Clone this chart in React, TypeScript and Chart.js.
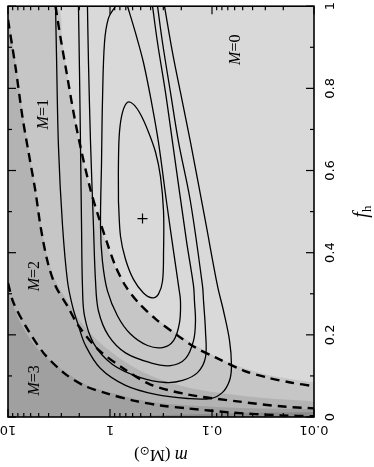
import React, { useEffect, useRef } from 'react';
import { Chart, registerables } from 'chart.js';

Chart.register(...registerables);

// ---- axis ticks ----
const M_TICKS = [10, 1, 0.1, 0.01];
const M_TICK_LABELS = ['10', '1', '0.1', '0.01'];
const M_MINOR = [9, 8, 7, 6, 5, 4, 3, 2, 0.9, 0.8, 0.7, 0.6, 0.5, 0.4, 0.3, 0.2, 0.09, 0.08, 0.07, 0.06, 0.05, 0.04, 0.03, 0.02];
const F_TICKS = [0, 0.2, 0.4, 0.6, 0.8, 1];
const F_TICK_LABELS = ['0', '0.2', '0.4', '0.6', '0.8', '1'];
const F_MINOR = [0.1, 0.3, 0.5, 0.7, 0.9];

// ---- shaded region boundaries (log10 m, f_h) ----
const b1LogM = [1.0, 0.525, 0.466, 0.407, 0.338, 0.289, 0.191, 0.123, 0.044, -0.034, -0.132, -0.25, -0.397, -0.593, -0.819, -1.152, -1.544, -2.0];
const b1F = [1.0, 1.0, 0.911, 0.815, 0.718, 0.652, 0.548, 0.488, 0.428, 0.374, 0.326, 0.287, 0.251, 0.214, 0.178, 0.134, 0.103, 0.084];
const b2LogM = [1.0, 0.926, 0.858, 0.799, 0.73, 0.681, 0.613, 0.534, 0.417, 0.309, 0.123, -0.132, -0.397, -0.76, -1.25, -1.672, -2.0];
const b2F = [0.979, 0.863, 0.742, 0.65, 0.553, 0.471, 0.389, 0.331, 0.282, 0.239, 0.186, 0.137, 0.101, 0.072, 0.053, 0.043, 0.038];
const b3LogM = [1.0, 0.877, 0.711, 0.485, 0.221, -0.103, -0.426, -0.789, -1.377, -2.0];
const b3F = [0.307, 0.229, 0.166, 0.118, 0.077, 0.053, 0.036, 0.028, 0.021, 0.019];
const b4LogM = [0.093, -0.495, -1.181, -2.0];
const b4F = [0.0, 0.004, 0.009, 0.012];

// ---- dashed boundaries ----
const d1LogM = [0.534, 0.485, 0.426, 0.358, 0.289, 0.191, 0.113, 0.034, -0.054, -0.152, -0.279, -0.446, -0.642, -0.838, -1.034, -1.309, -1.544, -1.77, -2.0];
const d1F = [1.0, 0.923, 0.839, 0.742, 0.657, 0.553, 0.488, 0.428, 0.367, 0.319, 0.278, 0.239, 0.202, 0.169, 0.145, 0.113, 0.096, 0.084, 0.075];
const d2LogM = [1.0, 0.926, 0.858, 0.799, 0.73, 0.681, 0.613, 0.534, 0.417, 0.309, 0.123, -0.132, -0.397, -0.76, -1.25, -1.672, -2.0];
const d2F = [0.967, 0.851, 0.73, 0.645, 0.548, 0.464, 0.379, 0.319, 0.27, 0.222, 0.166, 0.118, 0.079, 0.055, 0.038, 0.026, 0.021];
const d3LogM = [1.0, 0.946, 0.809, 0.652, 0.456, 0.26, 0.025, -0.23, -0.495, -0.76, -1.181, -1.672, -2.0];
const d3F = [0.326, 0.278, 0.214, 0.156, 0.108, 0.077, 0.057, 0.04, 0.028, 0.021, 0.011, 0.004, 0.002];

// ---- likelihood contours ----
const c1LogM = [-0.083, -0.083, -0.093, -0.123, -0.172, -0.23, -0.299, -0.377, -0.446, -0.495, -0.525, -0.525, -0.515, -0.475, -0.417, -0.328, -0.23, -0.152, -0.103, -0.083];
const c1F = [0.524, 0.621, 0.694, 0.742, 0.766, 0.761, 0.737, 0.694, 0.645, 0.585, 0.5, 0.403, 0.331, 0.299, 0.29, 0.302, 0.335, 0.384, 0.44, 0.524];
const c2LogM = [-0.054, 0.015, 0.054, 0.074, 0.083, 0.093, 0.074, 0.025, -0.074, -0.201, -0.368, -0.515, -0.623, -0.681, -0.691, -0.672, -0.623, -0.554, -0.475, -0.407, -0.328, -0.25, -0.172];
const c2F = [1.0, 0.971, 0.911, 0.766, 0.621, 0.464, 0.379, 0.307, 0.246, 0.202, 0.174, 0.169, 0.186, 0.229, 0.282, 0.319, 0.403, 0.524, 0.669, 0.766, 0.863, 0.935, 1.0];
const c3LogM = [0.221, 0.211, 0.191, 0.162, 0.142, 0.113, 0.015, -0.152, -0.397, -0.593, -0.74, -0.819, -0.838, -0.828, -0.819, -0.75, -0.613, -0.544, -0.466, -0.417];
const c3F = [1.0, 0.863, 0.669, 0.464, 0.331, 0.258, 0.198, 0.156, 0.132, 0.125, 0.142, 0.186, 0.234, 0.282, 0.319, 0.428, 0.669, 0.79, 0.911, 1.0];
const c4LogM = [0.309, 0.299, 0.289, 0.279, 0.27, 0.25, 0.162, -0.025, -0.299, -0.544, -0.711, -0.858, -0.936, -0.936, -0.917, -0.907, -0.789, -0.672, -0.593, -0.515, -0.466];
const c4F = [1.0, 0.839, 0.657, 0.464, 0.319, 0.246, 0.18, 0.128, 0.096, 0.084, 0.089, 0.108, 0.145, 0.21, 0.282, 0.319, 0.524, 0.669, 0.79, 0.911, 1.0];
const c5LogM = [0.534, 0.525, 0.505, 0.466, 0.417, 0.368, 0.309, 0.24, 0.093, -0.152, -0.446, -0.76, -0.985, -1.103, -1.172, -1.191, -1.172, -1.113, -1.054, -0.936, -0.789, -0.691, -0.613, -0.534];
const c5F = [1.0, 0.887, 0.657, 0.468, 0.331, 0.27, 0.222, 0.174, 0.118, 0.077, 0.055, 0.045, 0.045, 0.06, 0.089, 0.125, 0.186, 0.258, 0.319, 0.476, 0.669, 0.79, 0.887, 1.0];

// best fit
const PEAK_M = 0.48;
const PEAK_F = 0.483;

// region labels
const REGION_TEXT = ['0', '1', '2', '3'];
const REGION_M = [0.059, 4.49, 5.62, 5.62];
const REGION_F = [0.894, 0.737, 0.343, 0.089];

const SHADES = ['#d9d9d9', '#c6c6c6', '#b3b3b3', '#a0a0a0', '#8c8c8c'];

const toPts = (lm: number[], f: number[]) => lm.map((v, i) => ({ x: Math.pow(10, v), y: f[i] }));

type Part = { t: string; font: string; dy?: number };
function drawParts(ctx: CanvasRenderingContext2D, parts: Part[], x: number, y: number, rot: number, base: number) {
  ctx.save();
  ctx.translate(x, y);
  ctx.rotate(rot);
  ctx.textAlign = 'left';
  ctx.textBaseline = 'alphabetic';
  let total = 0;
  const widths = parts.map((p) => {
    ctx.font = p.font;
    const w = ctx.measureText(p.t).width;
    total += w;
    return w;
  });
  let cx = -total / 2;
  parts.forEach((p, i) => {
    ctx.font = p.font;
    ctx.fillText(p.t, cx, base + (p.dy || 0));
    cx += widths[i];
  });
  ctx.restore();
}

const SERIF = '"Liberation Serif", "DejaVu Serif", serif';
const SANS = '"DejaVu Sans", "Liberation Sans", sans-serif';

const decor = {
  id: 'decor',
  beforeDatasetsDraw(chart: any) {
    const { ctx, chartArea: a } = chart;
    ctx.save();
    ctx.fillStyle = SHADES[0];
    ctx.fillRect(a.left, a.top, a.right - a.left, a.bottom - a.top);
    ctx.restore();
  },
  afterDatasetsDraw(chart: any) {
    const { ctx, chartArea: a, scales } = chart;
    const xs = scales.x;
    const ys = scales.y;
    ctx.save();
    ctx.strokeStyle = '#000';
    ctx.fillStyle = '#000';
    ctx.lineWidth = 1.2;
    const line = (x1: number, y1: number, x2: number, y2: number) => {
      ctx.beginPath();
      ctx.moveTo(x1, y1);
      ctx.lineTo(x2, y2);
      ctx.stroke();
    };
    const MAJ = 8;
    const MIN = 4;
    M_TICKS.forEach((m) => {
      const px = xs.getPixelForValue(m);
      line(px, a.bottom, px, a.bottom - MAJ);
      line(px, a.top, px, a.top + MAJ);
    });
    M_MINOR.forEach((m) => {
      const px = xs.getPixelForValue(m);
      line(px, a.bottom, px, a.bottom - MIN);
      line(px, a.top, px, a.top + MIN);
    });
    F_TICKS.forEach((f) => {
      const py = ys.getPixelForValue(f);
      line(a.left, py, a.left + MAJ, py);
      line(a.right, py, a.right - MAJ, py);
    });
    F_MINOR.forEach((f) => {
      const py = ys.getPixelForValue(f);
      line(a.left, py, a.left + MIN, py);
      line(a.right, py, a.right - MIN, py);
    });
    ctx.lineWidth = 1.6;
    ctx.strokeRect(a.left, a.top, a.right - a.left, a.bottom - a.top);

    // tick labels
    ctx.font = '13px ' + SANS;
    ctx.textAlign = 'center';
    ctx.textBaseline = 'middle';
    M_TICKS.forEach((m, i) => {
      const px = xs.getPixelForValue(m);
      ctx.save();
      ctx.translate(px, a.bottom + 12);
      ctx.rotate(Math.PI);
      ctx.fillText(M_TICK_LABELS[i], 0, 0);
      ctx.restore();
    });
    F_TICKS.forEach((f, i) => {
      const py = ys.getPixelForValue(f);
      ctx.save();
      ctx.translate(a.right + 16.5, py);
      ctx.rotate(-Math.PI / 2);
      ctx.fillText(F_TICK_LABELS[i], 0, 0);
      ctx.restore();
    });

    // axis titles
    drawParts(
      ctx,
      [
        { t: 'm', font: 'italic 18px ' + SERIF },
        { t: ' (M', font: '17px ' + SERIF },
        { t: '\u2299', font: '12px "DejaVu Sans", sans-serif', dy: 3 },
        { t: ')', font: '17px ' + SERIF },
      ],
      (a.left + a.right) / 2,
      a.bottom + 38,
      Math.PI,
      5
    );
    drawParts(
      ctx,
      [
        { t: 'f', font: 'italic 20px ' + SERIF },
        { t: 'h', font: '13px ' + SERIF, dy: 4 },
      ],
      a.right + 48,
      (a.top + a.bottom) / 2,
      -Math.PI / 2,
      5
    );

    // region labels
    REGION_TEXT.forEach((t, i) => {
      drawParts(
        ctx,
        [
          { t: 'M', font: 'italic 16px ' + SERIF },
          { t: '=' + t, font: '16px ' + SERIF },
        ],
        xs.getPixelForValue(REGION_M[i]),
        ys.getPixelForValue(REGION_F[i]),
        -Math.PI / 2,
        5
      );
    });
    ctx.restore();
  },
};

export default function App() {
  const ref = useRef<HTMLCanvasElement>(null);
  useEffect(() => {
    if (!ref.current) return;
    const fillDs = (lm: number[], f: number[], color: string, order: number) => ({
      data: toPts(lm, f),
      borderWidth: 0,
      borderColor: 'rgba(0,0,0,0)',
      backgroundColor: color,
      fill: 'start',
      pointRadius: 0,
      tension: 0.3,
      order,
    });
    const dashDs = (lm: number[], f: number[]) => ({
      data: toPts(lm, f),
      borderWidth: 2.4,
      borderColor: '#000',
      borderDash: [9, 6],
      fill: false,
      pointRadius: 0,
      tension: 0.3,
      order: 5,
    });
    const contDs = (lm: number[], f: number[]) => ({
      data: toPts(lm, f),
      borderWidth: 1.3,
      borderColor: '#000',
      fill: false,
      pointRadius: 0,
      tension: 0.35,
      order: 3,
    });
    const chart = new Chart(ref.current, {
      type: 'line',
      data: {
        datasets: [
          fillDs(b1LogM, b1F, SHADES[1], 14),
          fillDs(b2LogM, b2F, SHADES[2], 13),
          fillDs(b3LogM, b3F, SHADES[3], 12),
          fillDs(b4LogM, b4F, SHADES[4], 11),
          dashDs(d1LogM, d1F),
          dashDs(d2LogM, d2F),
          dashDs(d3LogM, d3F),
          contDs(c1LogM, c1F),
          contDs(c2LogM, c2F),
          contDs(c3LogM, c3F),
          contDs(c4LogM, c4F),
          contDs(c5LogM, c5F),
          {
            data: [{ x: PEAK_M, y: PEAK_F }],
            showLine: false,
            pointStyle: 'cross',
            pointRadius: 5,
            pointBorderWidth: 1.2,
            pointBorderColor: '#000',
            borderColor: '#000',
            order: 1,
          },
        ] as any,
      },
      options: {
        animation: false,
        responsive: false,
        maintainAspectRatio: false,
        layout: { padding: { left: 8, top: 3, right: 60, bottom: 50 } },
        plugins: { legend: { display: false }, tooltip: { enabled: false } },
        scales: {
          x: { type: 'logarithmic', reverse: true, min: 0.01, max: 10, display: false },
          y: { type: 'linear', min: 0, max: 1, display: false },
        },
      } as any,
      plugins: [decor],
    });
    return () => chart.destroy();
  }, []);
  return (
    <div style={{ position: 'absolute', left: 0, top: 0, width: 374, height: 467, background: '#fff' }}>
      <canvas ref={ref} width={374} height={467} style={{ display: 'block' }} />
    </div>
  );
}
